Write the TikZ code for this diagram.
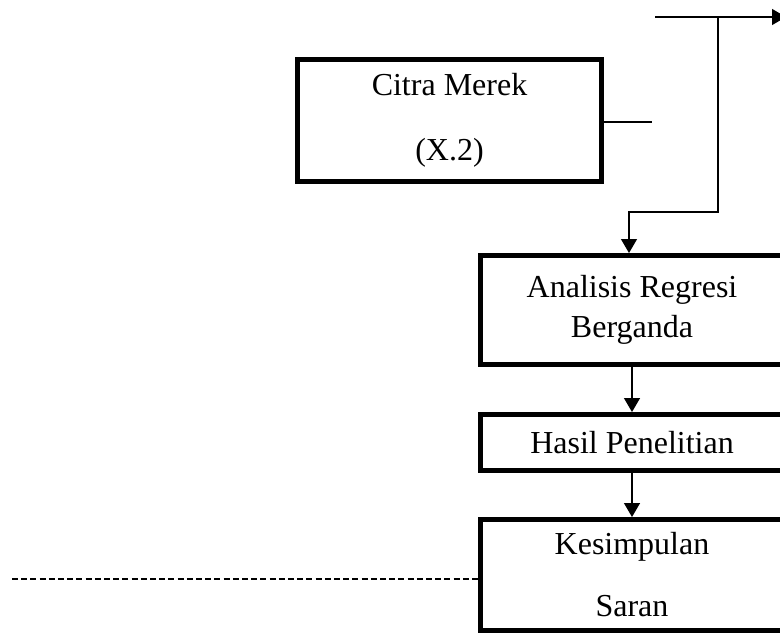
\documentclass[tikz,border=0pt]{standalone}
\usepackage{fontspec}
\setmainfont{Liberation Serif}
\usetikzlibrary{arrows.meta}

\begin{document}
\begin{tikzpicture}[x=0.75pt, y=-0.75pt, line width=1pt,
	every node/.style={font=\fontsize{24}{30}\selectfont},
	>={Triangle[length=10.5pt,width=12pt]},
	kotak/.style={draw, line width=3.75pt, align=center, inner sep=0pt, minimum width=227pt}]
	\clip (0,0) rectangle (780,637);
	\node[kotak, minimum width=228pt, minimum height=91.5pt] (citra) at (449.5,120.5) {Citra Merek\\[19pt](X.2)};
	\node[kotak, minimum height=81.75pt] (regresi) at (632,310) {Analisis Regresi\\Berganda};
	\node[kotak, minimum height=42pt] (hasil) at (632,442.5) {Hasil Penelitian};
	\node[kotak, minimum height=83.25pt] (simpulan) at (632,575) {Kesimpulan\\[16.5pt]Saran};
	\coordinate (kiri) at (655,17);
	\coordinate (kanan) at (786,17);
	\coordinate (atas) at (718,17);
	\coordinate (belok) at (718,212);
	\coordinate (ujung) at (652,122);
	\coordinate (garis) at (12,579);
	\draw[->] (kiri) -- (kanan);
	\draw[->] (atas) -- (belok) -| ([xshift=-2.25pt]regresi.north);
	\draw (citra.east |- ujung) -- (ujung);
	\draw[->] (regresi) -- (hasil);
	\draw[->] (hasil) -- (simpulan);
	\draw[line width=1.4pt, dash pattern=on 4.5pt off 2.4pt] (garis) -- (garis -| simpulan.west);
\end{tikzpicture}
\end{document}
